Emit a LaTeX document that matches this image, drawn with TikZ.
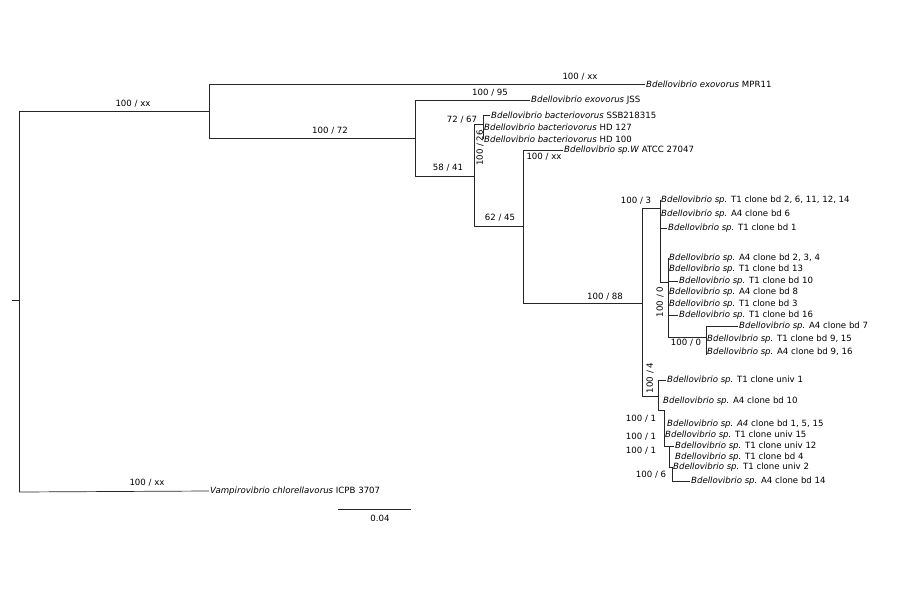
\documentclass[tikz,border=0pt]{standalone}
\usepackage{fontspec}
\setmainfont{DejaVu Sans}
\begin{document}
\begin{tikzpicture}[x=1pt,y=-1pt,
  br/.style={line width=0.7pt, black!85},
  lf/.style={anchor=west, inner sep=1pt, font=\fontsize{8.6}{9}\selectfont},
  bs/.style={font=\fontsize{8.6}{9}\selectfont, inner sep=1pt}]
\useasboundingbox (0,0) rectangle (900,600);
\newcommand{\lv}[4]{\node[lf] (#1) at (#2) {\textit{#3} #4};}
% internal coordinates
\coordinate (r) at (19,300);
\coordinate (rt) at (12,300);
\coordinate (a) at (209,111);
\coordinate (b) at (415,138);
\coordinate (c) at (474,176);
\coordinate (d) at (483,124);
\coordinate (e) at (523,226);
\coordinate (f) at (642,303);
\coordinate (g) at (660,208);
\coordinate (h) at (668,282);
\coordinate (i) at (706,337);
\coordinate (j) at (658,396);
\coordinate (k) at (664,410);
\coordinate (m) at (669,446);
\coordinate (n) at (672,467);
% leaves
\lv{l1}{645,84}{Bdellovibrio exovorus}{MPR11}
\lv{l2}{530,100}{Bdellovibrio exovorus}{JSS}
\lv{l3}{490,115}{Bdellovibrio bacteriovorus}{SSB218315}
\lv{l4}{483,127}{Bdellovibrio bacteriovorus}{HD 127}
\lv{l5}{483,139}{Bdellovibrio bacteriovorus}{HD 100}
\lv{l6}{563,150}{Bdellovibrio sp.W}{ATCC 27047}
\lv{t1}{660,200}{Bdellovibrio sp.}{T1 clone bd 2, 6, 11, 12, 14}
\lv{t2}{660,214}{Bdellovibrio sp.}{A4 clone bd 6}
\lv{t3}{667,228}{Bdellovibrio sp.}{T1 clone bd 1}
\lv{t4}{668,258}{Bdellovibrio sp.}{A4 clone bd 2, 3, 4}
\lv{t5}{668,269}{Bdellovibrio sp.}{T1 clone bd 13}
\lv{t6}{678,281}{Bdellovibrio sp.}{T1 clone bd 10}
\lv{t7}{668,292}{Bdellovibrio sp.}{A4 clone bd 8}
\lv{t8}{668,304}{Bdellovibrio sp.}{T1 clone bd 3}
\lv{t9}{678,315}{Bdellovibrio sp.}{T1 clone bd 16}
\lv{t10}{738,326}{Bdellovibrio sp.}{A4 clone bd 7}
\lv{t11}{706,339}{Bdellovibrio sp.}{T1 clone bd 9, 15}
\lv{t12}{706,352}{Bdellovibrio sp.}{A4 clone bd 9, 16}
\lv{u1}{666,380}{Bdellovibrio sp.}{T1 clone univ 1}
\lv{u2}{662,401}{Bdellovibrio sp.}{A4 clone bd 10}
\lv{u3}{666,424}{Bdellovibrio sp. A4}{clone bd 1, 5, 15}
\lv{u4}{664,435}{Bdellovibrio sp.}{T1 clone univ 15}
\lv{u5}{674,446}{Bdellovibrio sp.}{T1 clone univ 12}
\lv{u6}{674,457}{Bdellovibrio sp.}{T1 clone bd 4}
\lv{u7}{672,467}{Bdellovibrio sp.}{T1 clone univ 2}
\lv{u8}{690,481}{Bdellovibrio sp.}{A4 clone bd 14}
\lv{v}{209,491}{Vampirovibrio chlorellavorus}{ICPB 3707}
% branches
\draw[br] (rt) -- (r);
\draw[br] (19,111) -- (19,492);
\draw[br] (19,111) -- (a);
\draw[br] (19,492) -- (v.west);
\draw[br] (209,84) -- (209,138);
\draw[br] (209,84) -- (l1.west);
\draw[br] (209,138) -- (b);
\draw[br] (415,100) -- (415,176);
\draw[br] (415,100) -- (l2.west);
\draw[br] (415,176) -- (c);
\draw[br] (474,124) -- (474,226);
\draw[br] (474,124) -- (d);
\draw[br] (483,115) -- (483,139);
\draw[br] (483,115) -- (l3.west);
\draw[br] (474,226) -- (e);
\draw[br] (523,150) -- (523,303);
\draw[br] (523,150) -- (l6.west);
\draw[br] (523,303) -- (f);
\draw[br] (642,208) -- (642,396);
\draw[br] (642,208) -- (g);
\draw[br] (660,200) -- (660,282);
\draw[br] (660,228) -- (t3.west);
\draw[br] (660,282) -- (h);
\draw[br] (668,258) -- (668,337);
\draw[br] (668,281) -- (t6.west);
\draw[br] (668,315) -- (t9.west);
\draw[br] (668,337) -- (i);
\draw[br] (706,326) -- (706,355);
\draw[br] (706,326) -- (t10.west);
\draw[br] (642,396) -- (j);
\draw[br] (658,380) -- (658,410);
\draw[br] (658,380) -- (u1.west);
\draw[br] (658,410) -- (k);
\draw[br] (664,410) -- (664,446);
\draw[br] (664,446) -- (u5.west);
\draw[br] (669,446) -- (669,467);
\draw[br] (669,467) -- (n);
\draw[br] (672,467) -- (672,481);
\draw[br] (672,481) -- (u8.west);
% scale bar
\coordinate (s1) at (338,509);
\coordinate (s2) at (411,509);
\draw[br] (s1) -- (s2);
\node[bs] (sl) at (380,518) {0.04};
% support labels
\node[bs] (b1) at (580,77) {100 / xx};
\node[bs] (b2) at (133,104) {100 / xx};
\node[bs] (b3) at (330,131) {100 / 72};
\node[bs] (b4) at (490,93) {100 / 95};
\node[bs] (b5) at (462,120) {72 / 67};
\node[bs,rotate=90] (b6) at (480,148) {100 / 26};
\node[bs] (b7) at (448,168) {58 / 41};
\node[bs] (b8) at (544,157) {100 / xx};
\node[bs] (b9) at (500,218) {62 / 45};
\node[bs] (b10) at (605,297) {100 / 88};
\node[bs] (b11) at (636,201) {100 / 3};
\node[bs,rotate=90] (b12) at (660,302) {100 / 0};
\node[bs] (b13) at (686,343) {100 / 0};
\node[bs,rotate=90] (b14) at (650,378) {100 / 4};
\node[bs] (b15) at (641,419) {100 / 1};
\node[bs] (b16) at (641,437) {100 / 1};
\node[bs] (b17) at (641,451) {100 / 1};
\node[bs] (b18) at (651,475) {100 / 6};
\node[bs] (b19) at (147,483) {100 / xx};
\end{tikzpicture}
\end{document}
